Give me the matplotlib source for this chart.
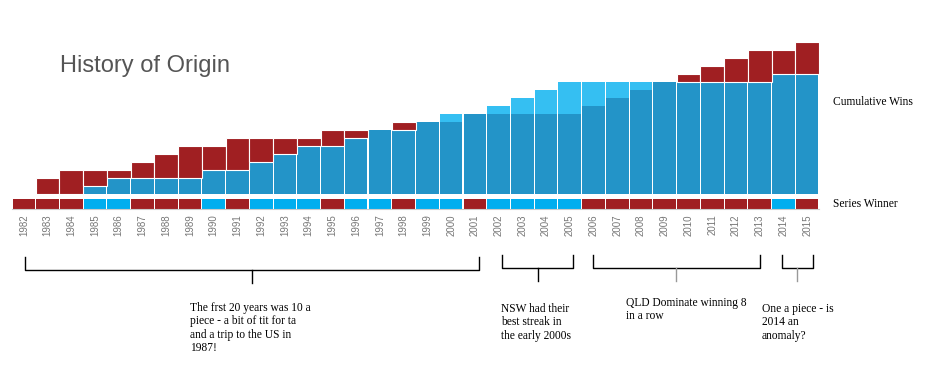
import numpy as np
import matplotlib.pyplot as plt

years = list(range(1982, 2016))
# cumulative series wins as drawn (1982 is drawn empty in the original)
qld_cum = [0, 2, 3, 3, 3, 4, 5, 6, 6, 7, 7, 7, 7, 8, 8, 8, 9, 9, 9, 10,
           10, 10, 10, 10, 11, 12, 13, 14, 15, 16, 17, 18, 18, 19]
nsw_cum = [0, 0, 0, 1, 2, 2, 2, 2, 3, 3, 4, 5, 6, 6, 7, 8, 8, 9, 10, 10,
           11, 12, 13, 14, 14, 14, 14, 14, 14, 14, 14, 14, 15, 15]
series_winner = list("QQQNNQQQNQNNNQNNQNNQNNNNQQQQQQQQNQ")

notes = [
    (1982, 2001, "The frst 20 years was 10 a\npiece - a bit of tit for ta\nand a trip to the US in\n1987!"),
    (2002, 2005, "NSW had their\nbest streak in\nthe early 2000s"),
    (2006, 2013, "QLD Dominate winning 8\nin a row"),
    (2014, 2015, "One a piece - is\n2014 an\nanomaly?"),
]

DARK = "#2394c8"
LIGHT = "#35bff2"
RED = "#a01f22"
STRIP_BLUE = "#00aeef"
SERIF = "Liberation Serif"

W, H = 933, 370
fig = plt.figure(figsize=(W / 100, H / 100), dpi=100)


def px_axes(left, top, right, bottom):
    ax = fig.add_axes([left / W, 1 - bottom / H, (right - left) / W, (bottom - top) / H])
    ax.set_xlim(0, len(years))
    for s in ax.spines.values():
        s.set_visible(False)
    ax.set_xticks([])
    ax.set_yticks([])
    ax.patch.set_alpha(0)
    return ax


x = np.arange(len(years)) + 0.5
qld = np.array(qld_cum)
nsw = np.array(nsw_cum)
low = np.minimum(qld, nsw)
qld_extra = qld - low
nsw_extra = nsw - low

# cumulative wins
ax = px_axes(12, 36, 819, 194)
ax.set_ylim(0, 19.75)
ax.bar(x, low, width=0.955, color=DARK, linewidth=0, zorder=2)
ax.bar(x, nsw_extra, bottom=low, width=0.955, color=LIGHT, linewidth=0, zorder=1)
m = qld_extra > 0
ax.bar(x[m], qld_extra[m], bottom=low[m], width=1.0, color=RED,
       edgecolor="white", linewidth=0.8, zorder=3)

# series winner strip
axs = px_axes(12, 199, 819, 209)
axs.set_ylim(0, 1)
cols = [RED if w == "Q" else STRIP_BLUE for w in series_winner]
axs.bar(x, np.ones(len(years)), width=0.955, color=cols, linewidth=0)
axs.spines["bottom"].set_visible(True)
axs.spines["bottom"].set_color("#cccccc")
axs.spines["bottom"].set_linewidth(0.8)
axs.set_xticks(x)
axs.set_xticklabels([str(y) for y in years], rotation=90, fontsize=7,
                    color="#777777", family="Liberation Sans")
axs.tick_params(axis="x", length=0, pad=4)

# brackets (slightly stretched past the bar centres, as in the original)
axa = px_axes(12, 250, 819, 370)
axa.set_ylim(120, 0)
ends = [(0.05, 0.18), (0.14, 0.15), (-0.02, 0.0), (-0.06, 0.24)]
levels = [20, 18, 18, 18]
tick_cols = ["black", "black", "#999999", "#999999"]
for (y0, y1, _), (da, db), lv, tc in zip(notes, ends, levels, tick_cols):
    a = years.index(y0) + 0.5 + da
    b = years.index(y1) + 0.5 + db
    axa.plot([a, a, b, b], [lv - 13, lv, lv, lv - 13], color="black", lw=1)
    axa.plot([(a + b) / 2] * 2, [lv, lv + 13], color=tc, lw=1)

text_pos = [(190, 302), (501, 303), (626, 297), (762, 303)]
for (_, _, txt), (tx, ty) in zip(notes, text_pos):
    fig.text(tx / W, 1 - ty / H, txt, ha="left", va="top", fontsize=8.3,
             family=SERIF, linespacing=1.15)

fig.text(60 / W, 1 - 72 / H, "History of Origin", fontsize=17, color="#555555",
         family="Liberation Sans", va="baseline")
fig.text(833 / W, 1 - 102 / H, "Cumulative Wins", fontsize=8.3, family=SERIF, va="center")
fig.text(833 / W, 1 - 204 / H, "Series Winner", fontsize=8.3, family=SERIF, va="center")

fig.savefig("out.png", dpi=100)
